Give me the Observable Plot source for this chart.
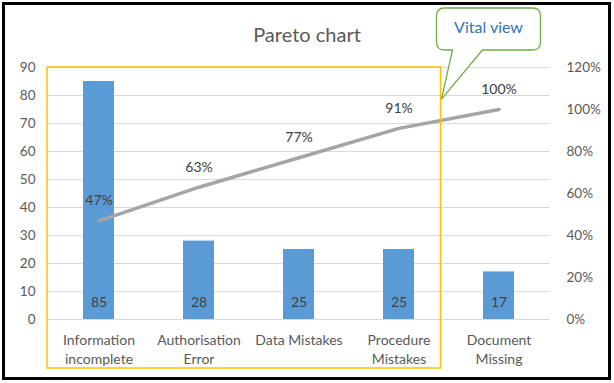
<!DOCTYPE html>
<html><head><meta charset="utf-8">
<script src="https://cdn.jsdelivr.net/npm/d3@7"></script>
<script src="https://cdn.jsdelivr.net/npm/@observablehq/plot@0.6"></script>
<style>
body{margin:0;background:#fff;}
#wrap{position:relative;width:614px;height:383px;overflow:hidden;font-family:Lato,"Open Sans",sans-serif;}
#wrap svg{position:absolute;left:0;top:0;}
#frame{position:absolute;left:2px;top:2px;width:603px;height:372px;border:3px solid #000;pointer-events:none;}
</style></head><body><div id="wrap"></div>
<script>
const categories = ["Information\nincomplete", "Authorisation\nError", "Data Mistakes", "Procedure\nMistakes", "Document\nMissing"];
const counts = [85, 28, 25, 25, 17];
const cumulativePct = [47, 63, 77, 91, 100];
const countTicks = [0, 10, 20, 30, 40, 50, 60, 70, 80, 90];
const pctTicks = [0, 20, 40, 60, 80, 100, 120];
const titleText = "Pareto chart";
const calloutText = "Vital view";

const countMax = 90, pctMax = 120;
const toCount = p => p * countMax / pctMax;
const rows = categories.map((c, i) => ({cat: c, count: counts[i], pct: cumulativePct[i], pctY: toCount(cumulativePct[i])}));

const W = 614, H = 383;
const chart = Plot.plot({
  width: W, height: H,
  marginLeft: 47, marginRight: 64, marginTop: 67, marginBottom: 64,
  style: {fontFamily: "Lato, 'Open Sans', sans-serif", fontSize: "13.5px", color: "#595959", background: "transparent"},
  x: {domain: categories, paddingInner: 0.69, paddingOuter: 0.345, label: null},
  y: {domain: [0, countMax], label: null},
  marks: [
    Plot.gridY(countTicks, {stroke: "#d9d9d9", strokeOpacity: 1, strokeWidth: 1}),
    Plot.axisY({ticks: countTicks, tickSize: 0, tickPadding: 12, label: null, fill: "#595959", fontSize: 13.5}),
    Plot.axisY({anchor: "right", ticks: pctTicks.map(toCount), tickSize: 0, tickPadding: 16, label: null,
      tickFormat: d => Math.round(d * pctMax / countMax) + "%", fill: "#595959", fontSize: 13.5, textAnchor: "start"}),
    Plot.axisX({tickSize: 0, tickPadding: 13, label: null, fill: "#595959", fontSize: 14, lineHeight: 1.3}),
    Plot.barY(rows, {x: "cat", y: "count", fill: "#5b9bd5"}),
    Plot.text(rows, {x: "cat", y: 0, text: d => String(d.count), dy: -17, fill: "#404040", fontSize: 14}),
    Plot.line(rows, {x: "cat", y: "pctY", stroke: "#a5a5a5", strokeWidth: 3.5, strokeLinecap: "round"}),
    Plot.text(rows, {x: "cat", y: "pctY", text: d => d.pct + "%", dy: -20, fill: "#404040", fontSize: 14})
  ]
});
const wrap = document.getElementById("wrap");
wrap.appendChild(chart);

// annotation overlay, positioned from the chart's scales
const xs = chart.scale("x"), ys = chart.scale("y");
const step = xs.step ?? (xs.bandwidth / (1 - 0.69));
const boxLeft = xs.range[0];
const boxRight = xs.apply(categories[3]) + xs.bandwidth / 2 + step * 0.42;
const boxTop = ys.apply(countMax);
const boxBottom = H - 15;
const svg = d3.select(wrap).append("svg").attr("width", W).attr("height", H);
svg.append("text").attr("x", W / 2).attr("y", 42).attr("text-anchor", "middle")
  .attr("font-size", 20).attr("fill", "#595959").attr("font-family", "Lato, 'Open Sans', sans-serif").text(titleText);
svg.append("rect").attr("x", boxLeft).attr("y", boxTop).attr("width", boxRight - boxLeft).attr("height", boxBottom - boxTop)
  .attr("fill", "none").attr("stroke", "#ffc000").attr("stroke-width", 1.5);
// callout
const cx0 = boxRight - 4, cx1 = boxRight + 100, cy0 = 8, cy1 = 50, r = 8;
const tipX = boxRight + 1, tipY = ys.apply(78.5);
const t0 = boxRight + 12, t1 = boxRight + 42;
const path = `M${cx0 + r},${cy0} H${cx1 - r} Q${cx1},${cy0} ${cx1},${cy0 + r} V${cy1 - r} Q${cx1},${cy1} ${cx1 - r},${cy1}
 H${t1} L${tipX},${tipY} L${t0},${cy1} H${cx0 + r} Q${cx0},${cy1} ${cx0},${cy1 - r} V${cy0 + r} Q${cx0},${cy0} ${cx0 + r},${cy0} Z`;
svg.append("path").attr("d", path).attr("fill", "#fff").attr("stroke", "#70ad47").attr("stroke-width", 1.3);
svg.append("text").attr("x", (cx0 + cx1) / 2).attr("y", 33).attr("text-anchor", "middle")
  .attr("font-size", 16).attr("fill", "#2e75b6").attr("font-family", "Lato, 'Open Sans', sans-serif").text(calloutText);
const frame = document.createElement("div"); frame.id = "frame"; wrap.appendChild(frame);
</script></body></html>
